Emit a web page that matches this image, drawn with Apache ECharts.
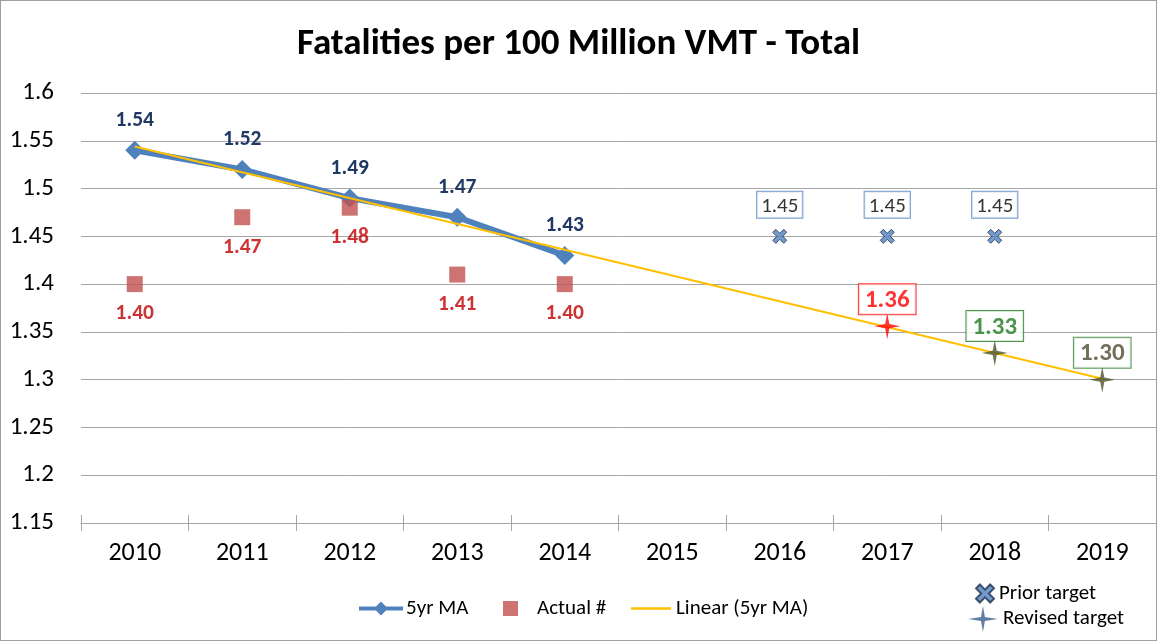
<!DOCTYPE html>
<html>
<head>
<meta charset="utf-8">
<script src="https://cdn.jsdelivr.net/npm/echarts@6/dist/echarts.min.js"></script>
<style>
  html, body { margin: 0; padding: 0; background: #fff; }
  #main { width: 1157px; height: 641px; box-sizing: border-box; border: 1px solid #a0a0a0; }
</style>
</head>
<body>
<div id="main"></div>
<script>
// values
var years = ['2010', '2011', '2012', '2013', '2014', '2015', '2016', '2017', '2018', '2019'];
var movingAvg = [1.54, 1.52, 1.49, 1.47, 1.43, null, null, null, null, null];
var actual = [1.40, 1.47, 1.48, 1.41, 1.40, null, null, null, null, null];
var trendEnds = [['2010', 1.544], ['2019', 1.301]];
var priorTarget = [null, null, null, null, null, null, 1.45, 1.45, 1.45, null];
var revisedTarget = [null, null, null, null, null, null, null, 1.356, 1.328, 1.30];

var font = 'Carlito, Lato, "Open Sans", sans-serif';
var starPath = 'path://M0,-10 L1.6,-1.6 L10,0 L1.6,1.6 L0,10 L-1.6,1.6 L-10,0 L-1.6,-1.6 Z';
var legendStar = 'path://M0,-10 L1.5,-1.5 L11.5,0 L1.5,1.5 L0,10 L-1.5,1.5 L-11.5,0 L-1.5,-1.5 Z';
var crossPath = 'path://M-7,-4 L-4,-7 L0,-3 L4,-7 L7,-4 L3,0 L7,4 L4,7 L0,3 L-4,7 L-7,4 L-3,0 Z';
var maIcon = 'path://M0,5 L17,5 L22,0 L27,5 L44,5 L44,9 L27,9 L22,14 L17,9 L0,9 Z';
var squareIcon = 'path://M0,0 L10,0 L10,10 L0,10 Z';
var lineIcon = 'path://M0,0 L40,0 L40,2.6 L0,2.6 Z';

// colour / box for each revised target label
var revisedStyle = {
    '2017': {color: '#ff0000', border: '#ff0000', point: '#ff0000'},
    '2018': {color: '#1e7a1e', border: '#1e7a1e', point: '#4f5128'},
    '2019': {color: '#4f4a30', border: '#2f7d2f', point: '#4f5128'}
};

var myChart = echarts.init(document.getElementById('main'));

var revisedData = revisedTarget.map(function (v, i) {
    if (v === null) return null;
    var s = revisedStyle[years[i]];
    return {
        value: v,
        itemStyle: {color: s.point},
        label: {color: s.color, borderColor: s.border}
    };
});

function two(p) { return p.value.toFixed(2); }

var legendText = {fontSize: 21, color: '#000', fontFamily: font};

option = {
    animation: false,
    textStyle: {fontFamily: font},
    title: {
        text: 'Fatalities per 100 Million VMT - Total',
        left: 'center',
        top: 20,
        textStyle: {fontSize: 37, fontWeight: 'bold', color: '#000', fontFamily: font}
    },
    legend: [
        {
            data: [{name: '5yr MA', icon: maIcon}],
            left: 358, top: 597, padding: 0,
            itemWidth: 44, itemHeight: 14,
            textStyle: {fontSize: 21, color: '#000', fontFamily: font, padding: [0, 0, 0, -2]}
        },
        {
            data: [{name: 'Actual #', icon: squareIcon}],
            left: 502, top: 597, padding: 0,
            itemWidth: 15, itemHeight: 15,
            textStyle: {fontSize: 21, color: '#000', fontFamily: font, padding: [0, 0, 0, 14]}
        },
        {
            data: [{name: 'Linear (5yr MA)', icon: lineIcon}],
            left: 630, top: 597, padding: 0,
            itemWidth: 40, itemHeight: 14,
            textStyle: legendText
        },
        {
            data: [{name: 'Prior target', icon: crossPath}],
            left: 974, top: 582, padding: 0,
            itemWidth: 18, itemHeight: 18,
            textStyle: legendText
        },
        {
            data: [{name: 'Revised target', icon: legendStar, itemStyle: {color: '#3a5f8f'}}],
            left: 967, top: 605, padding: 0,
            itemWidth: 30, itemHeight: 26,
            textStyle: legendText
        }
    ],
    grid: {left: 80, right: 0, top: 92, bottom: 117},
    xAxis: [
        {
            type: 'category',
            data: years,
            axisLine: {lineStyle: {color: '#a6a6a6', width: 1}},
            axisTick: {show: true, length: 8, lineStyle: {color: '#a6a6a6'}},
            axisLabel: {fontSize: 26, color: '#000', margin: 17, fontFamily: font}
        },
        {
            type: 'category',
            data: years,
            position: 'bottom',
            axisLine: {show: false},
            axisTick: {show: true, inside: true, length: 8, lineStyle: {color: '#a6a6a6'}},
            axisLabel: {show: false}
        }
    ],
    yAxis: {
        type: 'value',
        min: 1.15,
        max: 1.6,
        interval: 0.05,
        axisLine: {show: false},
        axisTick: {show: false},
        axisLabel: {fontSize: 25, color: '#000', margin: 27, fontFamily: font},
        splitLine: {lineStyle: {color: '#a6a6a6', width: 1}}
    },
    series: [
        {
            name: '5yr MA',
            type: 'line',
            data: movingAvg,
            symbol: 'diamond',
            symbolSize: 19,
            lineStyle: {color: '#4f81bd', width: 6},
            itemStyle: {color: '#4f81bd'},
            label: {
                show: true,
                position: 'top',
                distance: 9,
                fontSize: 21.5,
                fontWeight: 'bold',
                color: '#1f3864',
                formatter: two
            },
            z: 2
        },
        {
            name: 'Actual #',
            type: 'scatter',
            data: actual,
            symbol: 'rect',
            symbolSize: 16,
            itemStyle: {color: '#c0504d'},
            label: {
                show: true,
                position: 'bottom',
                distance: 11,
                fontSize: 21.5,
                fontWeight: 'bold',
                color: '#c00000',
                formatter: two
            },
            z: 3
        },
        {
            name: 'Linear (5yr MA)',
            type: 'line',
            data: trendEnds,
            symbol: 'none',
            lineStyle: {color: '#ffc000', width: 2},
            itemStyle: {color: '#ffc000'},
            z: 4
        },
        {
            name: 'Prior target',
            type: 'scatter',
            data: priorTarget,
            symbol: crossPath,
            symbolSize: 14,
            itemStyle: {color: '#4f81bd', borderColor: '#1f2f4f', borderWidth: 1},
            label: {
                show: true,
                position: 'top',
                distance: 11,
                fontSize: 21,
                color: '#000',
                backgroundColor: '#fff',
                borderColor: '#4f81bd',
                borderWidth: 1,
                padding: [4, 4, 1, 4],
                formatter: two
            },
            z: 5
        },
        {
            name: 'Revised target',
            type: 'scatter',
            data: revisedData,
            symbol: starPath,
            symbolSize: 26,
            itemStyle: {color: '#4f5128'},
            label: {
                show: true,
                position: 'top',
                distance: -1,
                fontSize: 25,
                fontWeight: 'bold',
                backgroundColor: '#fff',
                borderWidth: 1,
                padding: [4, 6, 1, 6],
                formatter: two
            },
            z: 6
        }
    ]
};

myChart.setOption(option);
</script>
</body>
</html>
